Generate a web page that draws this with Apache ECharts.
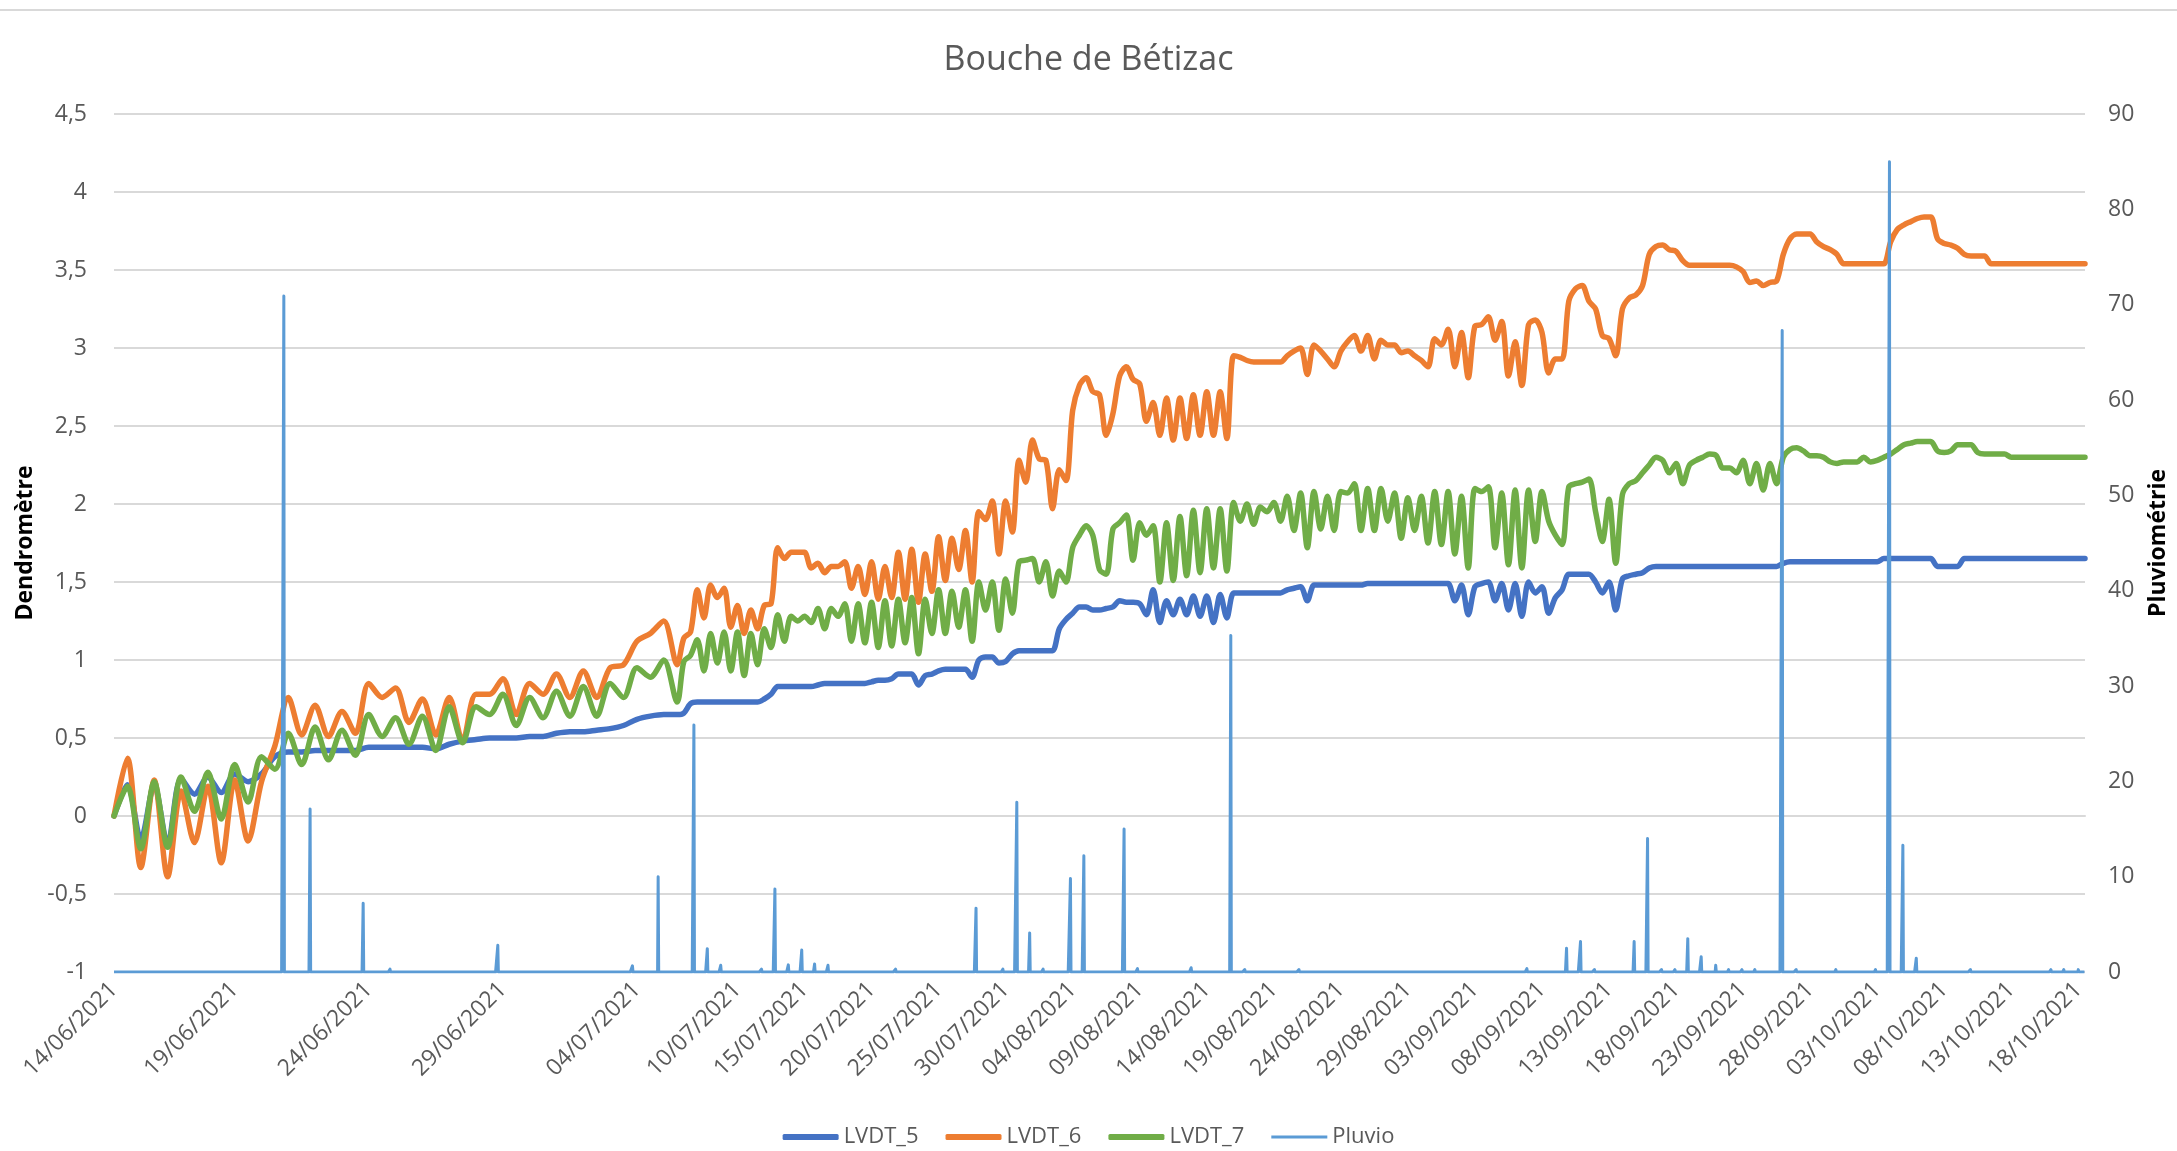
<!DOCTYPE html>
<html>
<head>
<meta charset="utf-8">
<title>Bouche de Bétizac</title>
<script src="https://cdn.jsdelivr.net/npm/echarts@6/dist/echarts.min.js"></script>
<style>
  html, body { margin: 0; padding: 0; background: #fff; }
  #chart { width: 2177px; height: 1151px; }
</style>
</head>
<body>
<div id="chart"></div>
<script>
// dates shown under the x axis
const tickDates = [
  '14/06/2021', '19/06/2021', '24/06/2021', '29/06/2021', '04/07/2021', '10/07/2021',
  '15/07/2021', '20/07/2021', '25/07/2021', '30/07/2021', '04/08/2021', '09/08/2021',
  '14/08/2021', '19/08/2021', '24/08/2021', '29/08/2021', '03/09/2021', '08/09/2021',
  '13/09/2021', '18/09/2021', '23/09/2021', '28/09/2021', '03/10/2021', '08/10/2021',
  '13/10/2021', '18/10/2021'
];

// dendrometer readings, one every 12 h starting 14/06/2021 12:00
const lvdt5 = [
  0.00, 0.20, -0.15, 0.20, -0.18, 0.24, 0.14, 0.25, 0.15, 0.27,
  0.22, 0.27, 0.38, 0.41, 0.41, 0.42, 0.42, 0.42, 0.42, 0.44,
  0.44, 0.44, 0.44, 0.44, 0.43, 0.46, 0.48, 0.49, 0.50, 0.50,
  0.50, 0.51, 0.51, 0.53, 0.54, 0.54, 0.55, 0.56, 0.58, 0.62,
  0.64, 0.65, 0.65, 0.66, 0.72, 0.73, 0.73, 0.73, 0.73, 0.73,
  0.73, 0.73, 0.73, 0.73, 0.73, 0.75, 0.78, 0.83, 0.83, 0.83,
  0.83, 0.83, 0.83, 0.84, 0.85, 0.85, 0.85, 0.85, 0.85, 0.85,
  0.85, 0.86, 0.87, 0.87, 0.88, 0.91, 0.91, 0.91, 0.84, 0.90,
  0.91, 0.93, 0.94, 0.94, 0.94, 0.94, 0.89, 1.00, 1.02, 1.02,
  0.98, 0.99, 1.04, 1.06, 1.06, 1.06, 1.06, 1.06, 1.06, 1.20,
  1.26, 1.30, 1.34, 1.34, 1.32, 1.32, 1.33, 1.34, 1.38, 1.37,
  1.37, 1.36, 1.29, 1.45, 1.24, 1.38, 1.29, 1.39, 1.29, 1.41,
  1.28, 1.41, 1.24, 1.42, 1.27, 1.43, 1.43, 1.43, 1.43, 1.43,
  1.43, 1.43, 1.43, 1.45, 1.46, 1.47, 1.38, 1.48, 1.48, 1.48,
  1.48, 1.48, 1.48, 1.48, 1.48, 1.49, 1.49, 1.49, 1.49, 1.49,
  1.49, 1.49, 1.49, 1.49, 1.49, 1.49, 1.49, 1.49, 1.38, 1.48,
  1.29, 1.47, 1.49, 1.50, 1.38, 1.49, 1.32, 1.49, 1.28, 1.50,
  1.43, 1.47, 1.30, 1.40, 1.45, 1.55, 1.55, 1.55, 1.55, 1.50,
  1.43, 1.50, 1.32, 1.52, 1.54, 1.55, 1.56, 1.59, 1.60, 1.60,
  1.60, 1.60, 1.60, 1.60, 1.60, 1.60, 1.60, 1.60, 1.60, 1.60,
  1.60, 1.60, 1.60, 1.60, 1.60, 1.60, 1.60, 1.62, 1.63, 1.63,
  1.63, 1.63, 1.63, 1.63, 1.63, 1.63, 1.63, 1.63, 1.63, 1.63,
  1.63, 1.63, 1.65, 1.65, 1.65, 1.65, 1.65, 1.65, 1.65, 1.65,
  1.60, 1.60, 1.60, 1.60, 1.65, 1.65, 1.65, 1.65, 1.65, 1.65,
  1.65, 1.65, 1.65, 1.65, 1.65, 1.65, 1.65, 1.65, 1.65, 1.65,
  1.65, 1.65, 1.65
];
const lvdt6 = [
  0.00, 0.37, -0.33, 0.23, -0.39, 0.16, -0.17, 0.19, -0.30, 0.23,
  -0.16, 0.22, 0.45, 0.76, 0.52, 0.71, 0.51, 0.67, 0.53, 0.85,
  0.76, 0.82, 0.60, 0.75, 0.52, 0.76, 0.48, 0.78, 0.78, 0.88,
  0.65, 0.85, 0.78, 0.91, 0.76, 0.93, 0.76, 0.95, 0.97, 1.12,
  1.17, 1.25, 0.97, 1.14, 1.18, 1.45, 1.27, 1.48, 1.40, 1.46,
  1.21, 1.35, 1.17, 1.32, 1.20, 1.35, 1.36, 1.72, 1.65, 1.69,
  1.69, 1.69, 1.59, 1.62, 1.56, 1.60, 1.60, 1.63, 1.46, 1.60,
  1.42, 1.63, 1.39, 1.60, 1.40, 1.69, 1.39, 1.71, 1.37, 1.68,
  1.44, 1.79, 1.51, 1.78, 1.58, 1.83, 1.50, 1.95, 1.90, 2.02,
  1.68, 2.02, 1.82, 2.28, 2.14, 2.41, 2.29, 2.28, 1.97, 2.22,
  2.15, 2.60, 2.76, 2.81, 2.72, 2.70, 2.44, 2.58, 2.82, 2.88,
  2.80, 2.77, 2.53, 2.65, 2.44, 2.68, 2.41, 2.68, 2.42, 2.70,
  2.44, 2.72, 2.44, 2.72, 2.42, 2.95, 2.94, 2.92, 2.91, 2.91,
  2.91, 2.91, 2.91, 2.95, 2.98, 3.00, 2.83, 3.02, 2.98, 2.93,
  2.88, 2.98, 3.04, 3.08, 2.98, 3.08, 2.93, 3.05, 3.02, 3.02,
  2.97, 2.98, 2.95, 2.92, 2.88, 3.06, 3.02, 3.12, 2.88, 3.10,
  2.81, 3.14, 3.15, 3.20, 3.05, 3.17, 2.82, 3.04, 2.76, 3.15,
  3.18, 3.10, 2.84, 2.93, 2.93, 3.30, 3.38, 3.40, 3.30, 3.25,
  3.08, 3.06, 2.95, 3.25, 3.32, 3.34, 3.40, 3.60, 3.65, 3.66,
  3.63, 3.62, 3.56, 3.53, 3.53, 3.53, 3.53, 3.53, 3.53, 3.53,
  3.52, 3.49, 3.42, 3.43, 3.40, 3.42, 3.43, 3.60, 3.70, 3.73,
  3.73, 3.73, 3.68, 3.65, 3.63, 3.60, 3.54, 3.54, 3.54, 3.54,
  3.54, 3.54, 3.54, 3.68, 3.76, 3.79, 3.81, 3.83, 3.84, 3.84,
  3.70, 3.67, 3.66, 3.64, 3.60, 3.59, 3.59, 3.59, 3.54, 3.54,
  3.54, 3.54, 3.54, 3.54, 3.54, 3.54, 3.54, 3.54, 3.54, 3.54,
  3.54, 3.54, 3.54
];
const lvdt7 = [
  0.00, 0.19, -0.21, 0.22, -0.20, 0.25, 0.03, 0.28, -0.02, 0.33,
  0.09, 0.38, 0.30, 0.53, 0.33, 0.57, 0.36, 0.55, 0.39, 0.65,
  0.51, 0.63, 0.46, 0.64, 0.42, 0.70, 0.47, 0.70, 0.65, 0.78,
  0.58, 0.76, 0.63, 0.80, 0.64, 0.83, 0.64, 0.85, 0.76, 0.95,
  0.89, 1.00, 0.73, 0.99, 1.03, 1.13, 0.93, 1.17, 0.98, 1.18,
  0.93, 1.18, 0.90, 1.17, 0.97, 1.20, 1.08, 1.29, 1.12, 1.28,
  1.25, 1.28, 1.24, 1.33, 1.20, 1.33, 1.28, 1.36, 1.12, 1.36,
  1.11, 1.37, 1.08, 1.38, 1.09, 1.39, 1.11, 1.40, 1.04, 1.39,
  1.17, 1.45, 1.17, 1.44, 1.21, 1.45, 1.12, 1.50, 1.32, 1.50,
  1.19, 1.52, 1.30, 1.63, 1.64, 1.65, 1.50, 1.63, 1.41, 1.57,
  1.50, 1.72, 1.80, 1.86, 1.80, 1.58, 1.55, 1.84, 1.88, 1.93,
  1.64, 1.88, 1.80, 1.86, 1.50, 1.88, 1.51, 1.92, 1.54, 1.96,
  1.56, 1.97, 1.59, 1.97, 1.57, 2.01, 1.89, 2.00, 1.87, 1.98,
  1.95, 2.01, 1.89, 2.05, 1.83, 2.07, 1.72, 2.08, 1.84, 2.05,
  1.83, 2.08, 2.07, 2.13, 1.83, 2.10, 1.83, 2.10, 1.89, 2.07,
  1.78, 2.04, 1.83, 2.05, 1.75, 2.08, 1.74, 2.08, 1.68, 2.05,
  1.59, 2.10, 2.08, 2.11, 1.72, 2.07, 1.61, 2.09, 1.59, 2.09,
  1.76, 2.08, 1.89, 1.80, 1.74, 2.11, 2.13, 2.14, 2.16, 1.95,
  1.76, 2.03, 1.62, 2.06, 2.13, 2.15, 2.20, 2.25, 2.30, 2.28,
  2.20, 2.26, 2.13, 2.25, 2.28, 2.30, 2.32, 2.31, 2.23, 2.23,
  2.20, 2.28, 2.13, 2.26, 2.09, 2.26, 2.13, 2.30, 2.35, 2.36,
  2.34, 2.31, 2.31, 2.30, 2.27, 2.26, 2.27, 2.27, 2.27, 2.30,
  2.27, 2.28, 2.30, 2.32, 2.35, 2.38, 2.39, 2.40, 2.40, 2.40,
  2.34, 2.33, 2.34, 2.38, 2.38, 2.38, 2.33, 2.32, 2.32, 2.32,
  2.32, 2.30, 2.30, 2.30, 2.30, 2.30, 2.30, 2.30, 2.30, 2.30,
  2.30, 2.30, 2.30
];

// rain gauge records (mm)
const pluvioTimes = [
  '20/06 20:00', '21/06 19:30', '23/06 19:00', '24/06 19:00', '28/06 19:30', '03/07 20:00',
  '04/07 19:00', '06/07 18:00', '07/07 18:00', '08/07 18:00', '11/07 19:00', '12/07 19:00',
  '13/07 19:00', '14/07 19:00', '15/07 18:00', '16/07 18:00', '21/07 19:00', '27/07 19:00',
  '29/07 19:00', '30/07 20:00', '31/07 19:00', '01/08 19:00', '03/08 20:00', '04/08 20:00',
  '07/08 20:00', '08/08 20:00', '12/08 20:00', '15/08 19:00', '16/08 20:00', '20/08 21:00',
  '06/09 21:00', '09/09 20:00', '10/09 21:00', '11/09 22:00', '14/09 21:00', '15/09 21:00',
  '16/09 22:00', '17/09 22:00', '18/09 21:00', '19/09 21:00', '20/09 23:00', '21/09 22:00',
  '22/09 22:00', '23/09 21:00', '25/09 22:00', '26/09 23:00', '29/09 22:00', '02/10 21:00',
  '03/10 22:00', '04/10 22:00', '05/10 22:00', '09/10 23:00', '15/10 23:00', '16/10 22:00',
  '18/10 00:00'
];
const pluvioMm = [
  70.9, 17.1, 7.2, 0.3, 2.8, 0.65,
  10.0, 25.9, 2.45, 0.7, 0.3, 8.7,
  0.75, 2.3, 0.85, 0.7, 0.3, 6.7,
  0.3, 17.8, 4.1, 0.3, 9.8, 12.2,
  15.0, 0.35, 0.45, 35.3, 0.25, 0.25,
  0.35, 2.5, 3.2, 0.25, 3.2, 14.0,
  0.25, 0.25, 3.5, 1.6, 0.7, 0.25,
  0.25, 0.25, 67.3, 0.25, 0.25, 0.25,
  85.0, 13.3, 1.45, 0.25, 0.25, 0.25,
  0.25
];

// logger step: 30 min until 05/07 12:00, then 1 h
const H = 3600 * 1000;
const tStart = Date.UTC(2021, 5, 14, 12);
const tSwitch = Date.UTC(2021, 6, 5, 12);
const tEnd = Date.UTC(2021, 9, 18, 12);
const nEarly = (tSwitch - tStart) / (H / 2);

const times = [];
for (let t = tStart; t < tSwitch; t += H / 2) times.push(t);
for (let t = tSwitch; t <= tEnd; t += H) times.push(t);

const pad = n => String(n).padStart(2, '0');
const fmt = t => {
  const d = new Date(t);
  return pad(d.getUTCDate()) + '/' + pad(d.getUTCMonth() + 1) + '/' + d.getUTCFullYear() +
    ' ' + pad(d.getUTCHours()) + ':' + pad(d.getUTCMinutes());
};
const categories = times.map(fmt);

function slotOf(t) {
  return t < tSwitch
    ? Math.round((t - tStart) / (H / 2))
    : nEarly + Math.round((t - tSwitch) / H);
}

function readingSeries(vals) {
  const data = new Array(times.length).fill(null);
  vals.forEach((v, r) => { data[slotOf(tStart + r * 12 * H)] = v; });
  return data;
}

// no rain outside the records
const pluvio = new Array(times.length).fill(0);
pluvioTimes.forEach((s, i) => {
  const [dm, hm] = s.split(' ');
  const [d, m] = dm.split('/').map(Number);
  const [hh, mi] = hm.split(':').map(Number);
  pluvio[slotOf(Date.UTC(2021, m - 1, d, hh, mi))] = pluvioMm[i];
});

const labelIdx = new Set(tickDates.map(d => categories.findIndex(c => c.startsWith(d))));

const grey = '#595959';
const font = 'Open Sans';

let myChart = echarts.init(document.getElementById('chart'));
myChart.setOption({
  animation: false,
  textStyle: { fontFamily: font },
  graphic: [{
    type: 'line',
    shape: { x1: 0, y1: 10, x2: 2177, y2: 10 },
    style: { stroke: '#d9d9d9', lineWidth: 2 }
  }],
  title: {
    text: 'Bouche de Bétizac',
    left: 'center',
    top: 38,
    textStyle: { fontSize: 34, fontWeight: 'normal', color: grey, fontFamily: font }
  },
  legend: {
    top: 1121,
    left: 'center',
    itemWidth: 56,
    itemHeight: 6,
    itemGap: 27,
    textStyle: { fontSize: 22, color: grey, fontFamily: font },
    data: [
      { name: 'LVDT_5', icon: 'roundRect' },
      { name: 'LVDT_6', icon: 'roundRect' },
      { name: 'LVDT_7', icon: 'roundRect' },
      { name: 'Pluvio', icon: 'path://M0,0h1v0.01h-1zM0,1.4h60v3.2h-60zM0,5.99h1v0.01h-1z' }
    ]
  },
  grid: { left: 114, right: 92, top: 114, bottom: 179, outerBoundsMode: 'none' },
  xAxis: {
    type: 'category',
    data: categories,
    boundaryGap: false,
    axisTick: { show: false },
    axisLine: { lineStyle: { color: '#d9d9d9', width: 2 } },
    axisLabel: {
      interval: i => labelIdx.has(i),
      formatter: v => v.slice(0, 10),
      rotate: 45,
      fontSize: 23,
      color: grey,
      margin: 14
    }
  },
  yAxis: [
    {
      type: 'value',
      min: -1,
      max: 4.5,
      interval: 0.5,
      name: 'Dendromètre',
      nameLocation: 'middle',
      nameGap: 77,
      nameMoveOverlap: false,
      nameTextStyle: { fontSize: 23, fontWeight: 'bold', color: '#000', fontFamily: font },
      axisLine: { show: false },
      axisTick: { show: false },
      axisLabel: { formatter: v => String(v).replace('.', ','), fontSize: 23, color: grey, margin: 27 },
      splitLine: { lineStyle: { color: '#d9d9d9', width: 2 } }
    },
    {
      type: 'value',
      position: 'right',
      min: 0,
      max: 90,
      interval: 10,
      name: 'Pluviométrie',
      nameLocation: 'middle',
      nameGap: 62,
      nameMoveOverlap: false,
      nameTextStyle: { fontSize: 23, fontWeight: 'bold', color: '#000', fontFamily: font },
      axisLine: { show: false },
      axisTick: { show: false },
      axisLabel: { fontSize: 23, color: grey, margin: 23 },
      splitLine: { show: false }
    }
  ],
  series: [
    {
      name: 'LVDT_5', type: 'line', data: readingSeries(lvdt5),
      connectNulls: true, symbol: 'none', smooth: 0.3,
      lineStyle: { color: '#4472C4', width: 5.5, cap: 'round', join: 'round' },
      itemStyle: { color: '#4472C4' }
    },
    {
      name: 'LVDT_6', type: 'line', data: readingSeries(lvdt6),
      connectNulls: true, symbol: 'none', smooth: 0.3,
      lineStyle: { color: '#ED7D31', width: 5.5, cap: 'round', join: 'round' },
      itemStyle: { color: '#ED7D31' }
    },
    {
      name: 'LVDT_7', type: 'line', data: readingSeries(lvdt7),
      connectNulls: true, symbol: 'none', smooth: 0.3,
      lineStyle: { color: '#70AD47', width: 5.5, cap: 'round', join: 'round' },
      itemStyle: { color: '#70AD47' }
    },
    {
      name: 'Pluvio', type: 'line', yAxisIndex: 1, data: pluvio,
      symbol: 'none',
      lineStyle: { color: '#5B9BD5', width: 3, join: 'round' },
      itemStyle: { color: '#5B9BD5' }
    }
  ]
});

window.addEventListener('resize', () => {
  myChart.resize();
});
</script>
</body>
</html>
